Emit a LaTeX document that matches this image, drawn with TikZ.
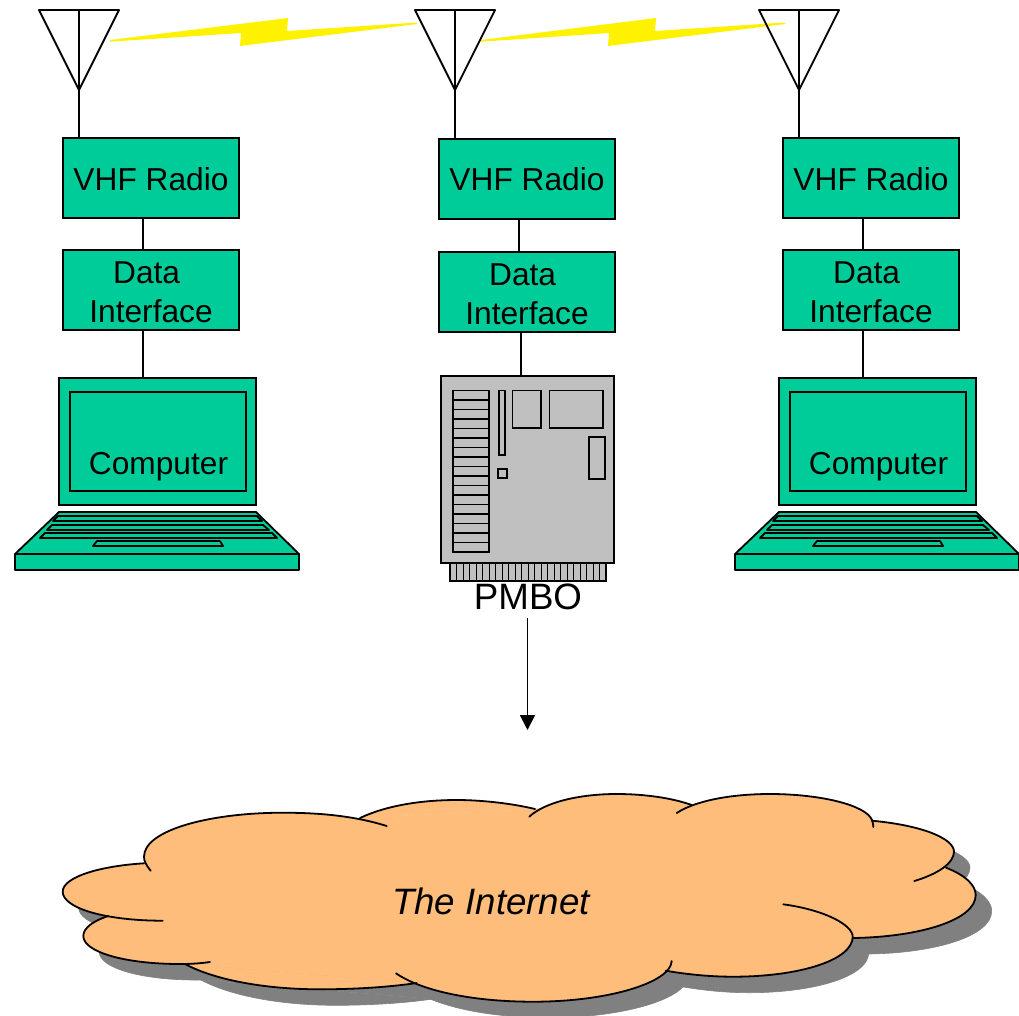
\documentclass[tikz,border=0pt]{standalone}
\usepackage{fontspec}
\setmainfont{Liberation Sans}
\usetikzlibrary{arrows.meta}
\definecolor{teal1}{HTML}{00CC99}
\definecolor{board}{HTML}{C0C0C0}
\definecolor{cloudfill}{HTML}{FFBD7C}
\definecolor{cloudshadow}{HTML}{808080}
\tikzset{
  line/.style={draw=black,line width=1.8pt},
  thinline/.style={draw=black,line width=1.1pt},
  greenbox/.style={line,fill=teal1,minimum width=176pt,minimum height=80pt,inner sep=0pt},
  boxtext/.style={inner sep=0pt,align=center,text=black,font=\fontsize{31.7}{39}\selectfont},
  screen/.style={line,fill=teal1,inner sep=0pt},
  part/.style={line,fill=board},
  bolt/.style={fill=yellow,draw=none},
}
% cloud lobes
\def\lobeA{(150.7,870.7) .. controls (146,865) and (144,861) .. (144,856.7) .. controls (144,830) and (210,812.7) .. (283,812.7) .. controls (320,812.7) and (355,816) .. (386.7,826)}
\def\lobeB{(360,818) .. controls (385,806) and (420,800) .. (456.7,800) .. controls (480,800) and (510,803) .. (535,809)}
\def\lobeC{(529.3,816.7) .. controls (545,802) and (580,794) .. (616.7,794) .. controls (645,794) and (672,798) .. (691.7,805)}
\def\lobeD{(676.7,813) .. controls (695,801) and (730,794) .. (770,794) .. controls (820,794) and (866,805) .. (872,820) .. controls (873,823) and (873.3,825) .. (873.3,827)}
\def\lobeE{(871.7,820.7) .. controls (920,825) and (954,838) .. (954,851.7) .. controls (954,863) and (938,874) .. (914.3,881)}
\def\lobeF{(946,867.7) .. controls (965,875) and (975.7,885) .. (975.7,895) .. controls (975.7,920) and (920,937) .. (852.7,938)}
\def\lobeG{(783.3,904.3) .. controls (825,910) and (852.7,925) .. (852.7,936.7) .. controls (852.7,960) and (800,976.7) .. (733,976.7) .. controls (708,976.7) and (685,974) .. (665.7,970.7)}
\def\lobeH{(671.7,961) .. controls (671,982) and (610,1001.7) .. (533,1001.7) .. controls (470,1001.7) and (420,990) .. (396,973.3)}
\def\lobeI{(416.7,983) .. controls (390,987) and (355,989.3) .. (320,989.3) .. controls (265,989.3) and (215,980) .. (185,964)}
\def\lobeJ{(210,962) .. controls (200,963.5) and (190,964) .. (180,964) .. controls (125,964) and (83.3,952) .. (83.3,936) .. controls (83.3,928) and (93,921) .. (108.3,916)}
\def\lobeK{(162.7,920.7) .. controls (105,920.7) and (62.7,908) .. (62.7,891.7) .. controls (62.7,877) and (100,866) .. (144,863.3)}
\newcommand\cloudfills{%
  \begin{scope}[line width=0.6pt]
  \filldraw \lobeA; \filldraw \lobeB; \filldraw \lobeC; \filldraw \lobeD; \filldraw \lobeE; \filldraw \lobeF;
  \filldraw \lobeG; \filldraw \lobeH; \filldraw \lobeI; \filldraw \lobeJ; \filldraw \lobeK;
  \filldraw (144,863) -- (360,818) -- (535,809) -- (691.7,805) -- (872,821) -- (946,867.7) -- (852.7,938)
    -- (665.7,970.7) -- (416.7,983) -- (185,964) -- (108.3,916) -- cycle;
  \end{scope}
}
% antenna: #1 = name, #2 = centre x
\newcommand\antenna[2]{%
  \coordinate (#1) at (#2,90);
  \coordinate (#1top) at (#2,10);
  \draw[line,line join=round] (#2-40,10) -- (#2+40,10) -- (#1) -- cycle;
  \draw[line] (#1top) -- (#1);
}
% laptop base and screen: #1 = name, #2 = x shift
\newcommand\laptop[2]{%
  \begin{scope}[xshift=#2pt]
    \node[screen,minimum width=197pt,minimum height=127pt] (#1) at (157.5,441.5) {};
    \node[screen,minimum width=176pt,minimum height=99pt] (#1in) at (158,441.5) {};
    \node[boxtext] (#1txt) at (158.5,467) {Computer};
    \draw[line,fill=teal1,line join=round] (59,512) -- (256,512) -- (299,554) -- (299,570) -- (15,570) -- (15,554) -- cycle;
    \draw[line] (15,554) -- (299,554);
    \draw[line,fill=teal1,line join=round] (58,516) -- (257,516) -- (262,521) -- (53,521) -- cycle;
    \draw[line,fill=teal1,line join=round] (52,525) -- (263,525) -- (269,530) -- (47,530) -- cycle;
    \draw[line,fill=teal1,line join=round] (45,533) -- (272,533) -- (277,538) -- (40,538) -- cycle;
    \draw[line,fill=teal1,line join=round] (97,541) -- (220,541) -- (223,546) -- (93,546) -- cycle;
  \end{scope}
}
\begin{document}
\begin{tikzpicture}[x=1pt,y=-1pt]
\useasboundingbox (0,0) rectangle (1019,1015);
\clip (0,0) rectangle (1019,1015);
% lightning bolts
\fill[bolt] (110,40) -- (288,18) -- (287,31) -- (417,22.5) -- (417,24) -- (240,46) -- (241,33) -- (110,41.7) -- cycle;
\fill[bolt] (481,40) -- (656,18) -- (655,31) -- (785,22.5) -- (785,24) -- (608,46) -- (609,33) -- (481,41.7) -- cycle;
% antennas
\antenna{antA}{79}
\antenna{antB}{455}
\antenna{antC}{799}
% radios
\node[greenbox] (radioA) at (151,178) {};
\node[greenbox] (radioB) at (527,179) {};
\node[greenbox] (radioC) at (871,178) {};
\node[boxtext] (radioAtxt) at (151,179) {VHF Radio};
\node[boxtext] (radioBtxt) at (527,179.5) {VHF Radio};
\node[boxtext] (radioCtxt) at (871,179) {VHF Radio};
% data interfaces
\node[greenbox] (dataA) at (151,290) {};
\node[greenbox] (dataB) at (527,292) {};
\node[greenbox] (dataC) at (871,290) {};
\node[boxtext] (dataAtxt) at (151,292) {Data\rule{8.8pt}{0pt}\\Interface};
\node[boxtext] (dataBtxt) at (527,294) {Data\rule{8.8pt}{0pt}\\Interface};
\node[boxtext] (dataCtxt) at (871,292) {Data\rule{8.8pt}{0pt}\\Interface};
% laptops
\laptop{compA}{0}
\laptop{compC}{720}
% board
\node[part,minimum width=173pt,minimum height=187pt,inner sep=0pt] (pmboBoard) at (527.5,469.5) {};
\draw[thinline,fill=board] (450,563) rectangle (606,581);
\foreach \i in {0,...,23} \draw[draw=black,line width=0.9pt] ({450+6.5*\i},563) -- ({450+6.5*\i},581);
\draw[part] (453,390.5) rectangle (489,552);
\foreach \i in {1,...,16} \draw[line] (453,{390.5+\i*9.5}) -- (489,{390.5+\i*9.5});
\draw[part] (499,390.5) rectangle (505,455);
\draw[part] (498,469) rectangle (507,478);
\draw[part] (512.5,390.5) rectangle (541,428);
\draw[part] (549.5,390.5) rectangle (603,428);
\draw[part] (589,437) rectangle (605,479);
\node[inner sep=0pt,minimum height=42pt,font=\fontsize{36.7}{42}\selectfont] (pmbo) at (528,597) {PMBO};
% connectors
\coordinate (linkA) at (143,0);
\coordinate (linkB) at (519,0);
\coordinate (linkBb) at (521,0);
\coordinate (linkC) at (863,0);
\coordinate (arrowX) at (527.5,0);
\coordinate (arrowEnd) at (527.5,730);
\draw[line] (antA) -- (antA |- radioA.north);
\draw[line] (antB) -- (antB |- radioB.north);
\draw[line] (antC) -- (antC |- radioC.north);
\draw[line] (radioA.south -| linkA) -- (dataA.north -| linkA);
\draw[line] (radioB.south -| linkB) -- (dataB.north -| linkB);
\draw[line] (radioC.south -| linkC) -- (dataC.north -| linkC);
\draw[line] (dataA.south -| linkA) -- (compA.north -| linkA);
\draw[line] (dataB.south -| linkBb) -- ([yshift=-2pt]pmboBoard.north -| linkBb);
\draw[line] (dataC.south -| linkC) -- (compC.north -| linkC);
\draw[line,-{Triangle[length=15pt,width=15pt]}] (pmbo.south -| arrowX) -- (arrowEnd);
% cloud
\begin{scope}[shift={(16,16)},cloudshadow]
  \cloudfills
\end{scope}
\begin{scope}[cloudfill]
  \cloudfills
\end{scope}
\draw[line,line cap=round] \lobeA;
\draw[line,line cap=round] \lobeB;
\draw[line,line cap=round] \lobeC;
\draw[line,line cap=round] \lobeD;
\draw[line,line cap=round] \lobeE;
\draw[line,line cap=round] \lobeF;
\draw[line,line cap=round] \lobeG;
\draw[line,line cap=round] \lobeH;
\draw[line,line cap=round] \lobeI;
\draw[line,line cap=round] \lobeJ;
\draw[line,line cap=round] \lobeK;
\node[inner sep=0pt,font=\fontsize{36.7}{42}\selectfont\itshape] (internet) at (491,901) {The Internet};
\end{tikzpicture}
\end{document}
